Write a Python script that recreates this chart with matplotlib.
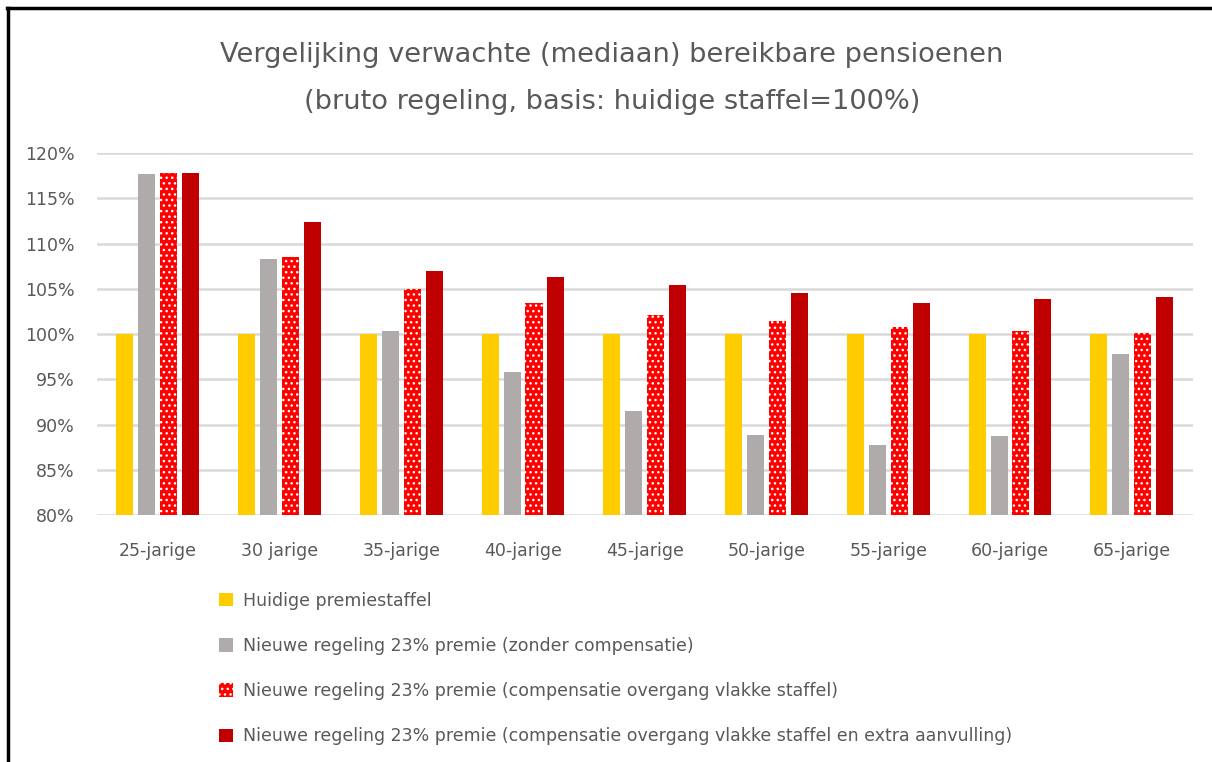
import numpy as np
import matplotlib.pyplot as plt
from matplotlib.patches import Patch

# Gegevens
leeftijden = ["25-jarige", "30 jarige", "35-jarige", "40-jarige", "45-jarige",
              "50-jarige", "55-jarige", "60-jarige", "65-jarige"]
huidig = [100.0, 100.0, 100.0, 100.0, 100.0, 100.0, 100.0, 100.0, 100.0]
zonder_comp = [117.7, 108.3, 100.3, 95.8, 91.5, 88.9, 87.8, 88.7, 97.8]
comp_vlak = [117.8, 108.5, 105.0, 103.4, 102.1, 101.5, 100.8, 100.3, 100.1]
comp_extra = [117.8, 112.4, 107.0, 106.3, 105.4, 104.5, 103.4, 103.9, 104.1]

titel = ["Vergelijking verwachte (mediaan) bereikbare pensioenen",
         "(bruto regeling, basis: huidige staffel=100%)"]
reeksen = [
    "Huidige premiestaffel",
    "Nieuwe regeling 23% premie (zonder compensatie)",
    "Nieuwe regeling 23% premie (compensatie overgang vlakke staffel)",
    "Nieuwe regeling 23% premie (compensatie overgang vlakke staffel en extra aanvulling)",
]

plt.rcParams['font.family'] = ['DejaVu Sans']
plt.rcParams['hatch.linewidth'] = 1.0
tekstkleur = '#595959'

fig = plt.figure(figsize=(12.12, 7.62), dpi=100)
ax = fig.add_axes([0.080, 0.324, 0.904, 0.475])

x = np.arange(len(leeftijden))
breedte = 0.14
stap = 0.18

ax.bar(x - 1.5 * stap, huidig, breedte, color='#FFCC00', zorder=3)
ax.bar(x - 0.5 * stap, zonder_comp, breedte, color='#AFABAB', zorder=3)
ax.bar(x + 0.5 * stap, comp_vlak, breedte, color='#FF0000', edgecolor='white',
       linewidth=0, hatch='...', zorder=3)
ax.bar(x + 1.5 * stap, comp_extra, breedte, color='#C00000', zorder=3)

ax.set_xlim(-0.5, len(leeftijden) - 0.5)
ax.set_ylim(80, 120)
ax.set_yticks(np.arange(80, 121, 5))
ax.set_yticklabels([f"{v}%" for v in range(80, 121, 5)])
ax.set_xticks(x)
ax.set_xticklabels(leeftijden)
ax.tick_params(axis='both', length=0, labelsize=12.5, colors=tekstkleur)
ax.tick_params(axis='x', pad=19)
ax.tick_params(axis='y', pad=16)
ax.grid(axis='y', color='#D9D9D9', linewidth=1.8, zorder=0)
for s in ax.spines.values():
    s.set_visible(False)

# titel, twee regels
fig.text(0.505, 0.928, titel[0], ha='center', va='center', fontsize=19.6, color=tekstkleur)
fig.text(0.505, 0.866, titel[1], ha='center', va='center', fontsize=19.6, color=tekstkleur)

handles = [
    Patch(facecolor='#FFCC00'),
    Patch(facecolor='#AFABAB'),
    Patch(facecolor='#FF0000', edgecolor='white', linewidth=0, hatch='...'),
    Patch(facecolor='#C00000'),
]
leg = fig.legend(handles, reeksen, loc='upper left', bbox_to_anchor=(0.168, 0.244),
                 frameon=False, fontsize=12.55, handlelength=0.8, handleheight=0.8,
                 handletextpad=0.55, labelspacing=1.56)
for t in leg.get_texts():
    t.set_color(tekstkleur)

# zwarte rand links en boven
fig.add_artist(plt.Line2D([0.0065, 0.0065], [0, 0.99], color='black', linewidth=2.5))
fig.add_artist(plt.Line2D([0.0055, 1], [0.9895, 0.9895], color='black', linewidth=2.5))

fig.savefig("out.png", dpi=100)
